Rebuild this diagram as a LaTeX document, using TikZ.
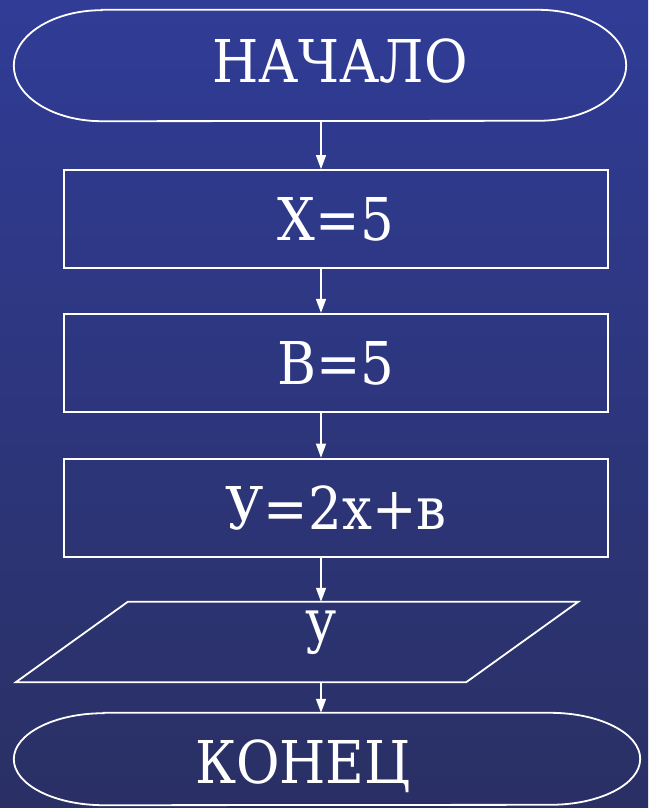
\documentclass[tikz,border=0pt]{standalone}
\usepackage{fontspec}
\newfontfamily\flowfont{DejaVu Serif Condensed}
\usetikzlibrary{positioning, arrows.meta}

\definecolor{seatop}{RGB}{48,60,150}
\definecolor{seamid}{RGB}{36,43,112}
\definecolor{seabot}{RGB}{42,48,100}

\begin{document}
\begin{tikzpicture}[
    x=1pt, y=-1pt,
    node distance=44pt,
    line/.style={draw=white, line width=1.8pt},
    txt/.style={text=white, font=\flowfont\fontsize{59pt}{59pt}\selectfont,
                inner sep=0pt, text height=43pt, text depth=0pt},
    blk/.style={rectangle, line, txt, minimum width=544pt, minimum height=98pt},
    term/.style={rectangle, inner sep=0pt},
    arrow/.style={-{Triangle[width=10pt,length=14pt]}, draw=white, line width=1.4pt}
]
% background
\shade[top color=seatop, middle color=seamid, bottom color=seabot]
    (0,0) rectangle (648,808);
\useasboundingbox (0,0) rectangle (648,808);

\coordinate (axis) at (321,0);

\node[term, minimum width=612pt, minimum height=111pt,
      label={[txt, xshift=20pt, yshift=5pt]center:НАЧАЛО}] (start) at (320,65.5) {};
\node[blk] (b1) at (336,219) {Х=5};
\node[blk, below=44pt of b1] (b2) {В=5};
\node[blk, below=45pt of b2] (b3) {У=2х+в};
\node[term, minimum width=562pt, minimum height=80pt,
      label={[txt, xshift=24pt, yshift=22pt]center:у}] (out) at (297,642) {};
\node[term, minimum width=626pt, minimum height=92pt,
      label={[txt, xshift=-24pt, yshift=-2.5pt]center:КОНЕЦ}] (finish) at (327,759) {};

% outlines of the terminals and the output
\draw[line] ([xshift=88pt]start.north west) -- ([xshift=-88pt]start.north east)
    arc[start angle=90, end angle=-90, x radius=88pt, y radius=55.5pt]
    -- ([xshift=88pt]start.south west)
    arc[start angle=270, end angle=90, x radius=88pt, y radius=55.5pt] -- cycle;
\draw[line] ([xshift=90pt]finish.north west) -- ([xshift=-90pt]finish.north east)
    arc[start angle=90, end angle=-90, x radius=90pt, y radius=46pt]
    -- ([xshift=90pt]finish.south west)
    arc[start angle=270, end angle=90, x radius=90pt, y radius=46pt] -- cycle;
\draw[line] (out.south west) -- ([xshift=112pt]out.north west)
    -- (out.north east) -- ([xshift=-112pt]out.south east) -- cycle;

\draw[arrow] (axis |- start.south) -- (axis |- b1.north);
\draw[arrow] (axis |- b1.south) -- (axis |- b2.north);
\draw[arrow] (axis |- b2.south) -- (axis |- b3.north);
\draw[arrow] (axis |- b3.south) -- (axis |- out.north);
\draw[arrow] (axis |- out.south) -- (axis |- finish.north);
\end{tikzpicture}
\end{document}
